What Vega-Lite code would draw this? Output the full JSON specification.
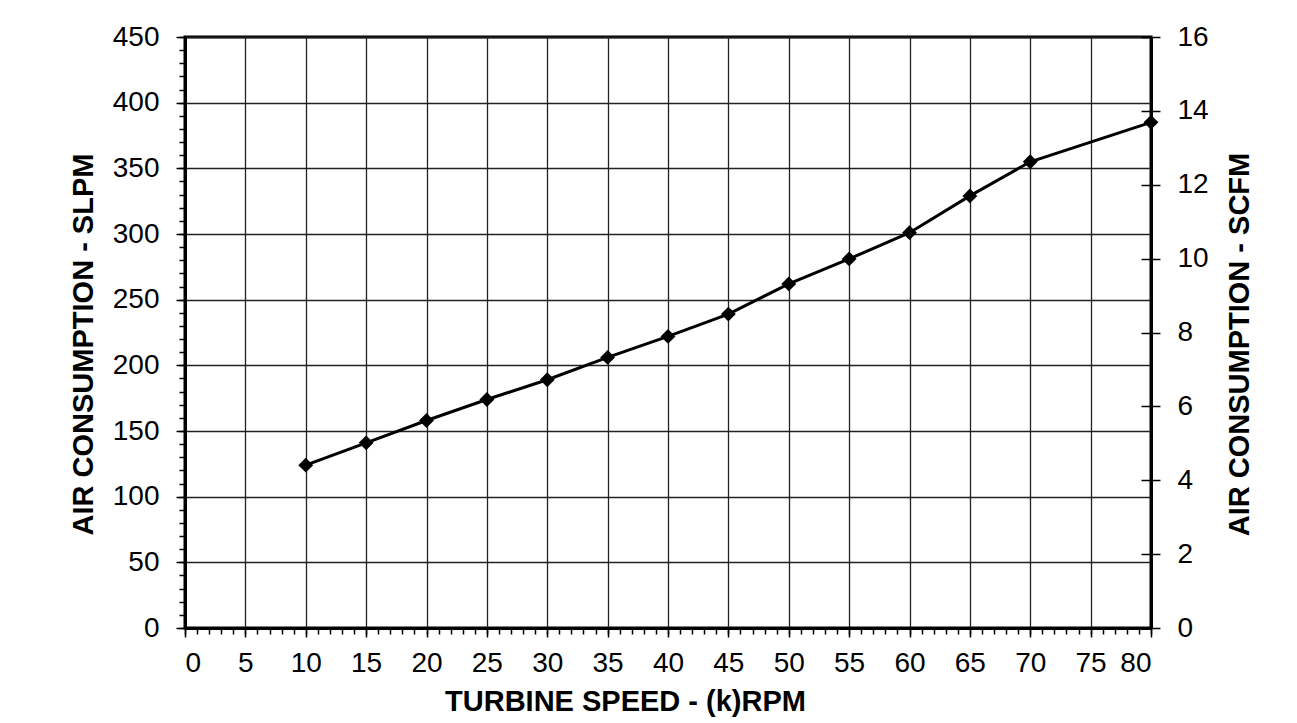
{
  "$schema": "https://vega.github.io/schema/vega-lite/v6.json",
  "width": 966,
  "height": 591,
  "autosize": {"type": "none"},
  "padding": {"left": 185, "top": 37, "right": 146, "bottom": 95},
  "background": "white",
  "config": {
    "view": {"stroke": "black", "strokeWidth": 3},
    "axis": {
      "labelFont": "Liberation Sans",
      "titleFont": "Liberation Sans",
      "labelColor": "black",
      "titleColor": "black",
      "tickColor": "black",
      "domainColor": "black",
      "labelFontSize": 28,
      "titleFontSize": 29,
      "titleFontWeight": "bold",
      "gridColor": "#222222",
      "gridWidth": 1.3,
      "gridOpacity": 1,
      "tickWidth": 1.5
    }
  },
  "data": {
    "values": [
      {"rpm": 10, "slpm": 124, "scfm": 4.41},
      {"rpm": 15, "slpm": 141, "scfm": 5.01},
      {"rpm": 20, "slpm": 158, "scfm": 5.62},
      {"rpm": 25, "slpm": 174, "scfm": 6.19},
      {"rpm": 30, "slpm": 189, "scfm": 6.72},
      {"rpm": 35, "slpm": 206, "scfm": 7.32},
      {"rpm": 40, "slpm": 222, "scfm": 7.89},
      {"rpm": 45, "slpm": 239, "scfm": 8.5},
      {"rpm": 50, "slpm": 262, "scfm": 9.32},
      {"rpm": 55, "slpm": 281, "scfm": 9.99},
      {"rpm": 60, "slpm": 301, "scfm": 10.7},
      {"rpm": 65, "slpm": 329, "scfm": 11.7},
      {"rpm": 70, "slpm": 355, "scfm": 12.62},
      {"rpm": 80, "slpm": 385, "scfm": 13.69}
    ]
  },
  "layer": [
    {
      "mark": {"type": "point", "opacity": 0},
      "encoding": {
        "x": {
          "field": "rpm", "type": "quantitative",
          "scale": {"domain": [0, 80], "nice": false},
          "axis": {
            "orient": "bottom",
            "values": [0,1,2,3,4,5,6,7,8,9,10,11,12,13,14,15,16,17,18,19,20,21,22,23,24,25,26,27,28,29,30,31,32,33,34,35,36,37,38,39,40,41,42,43,44,45,46,47,48,49,50,51,52,53,54,55,56,57,58,59,60,61,62,63,64,65,66,67,68,69,70,71,72,73,74,75,76,77,78,79,80],
            "labels": false, "grid": false, "domain": false, "tickSize": 6, "title": null
          }
        },
        "y": {
          "field": "slpm", "type": "quantitative",
          "scale": {"domain": [0, 450], "nice": false},
          "axis": {
            "orient": "left",
            "values": [0,10,20,30,40,50,60,70,80,90,100,110,120,130,140,150,160,170,180,190,200,210,220,230,240,250,260,270,280,290,300,310,320,330,340,350,360,370,380,390,400,410,420,430,440,450],
            "labels": false, "grid": false, "domain": false, "tickSize": 6, "title": null
          }
        }
      }
    },
    {
      "mark": {"type": "point", "opacity": 0},
      "encoding": {
        "x": {"field": "rpm", "type": "quantitative", "scale": {"domain": [0, 80], "nice": false}, "axis": null},
        "y": {
          "field": "scfm", "type": "quantitative",
          "scale": {"domain": [0, 16], "nice": false},
          "axis": {
            "orient": "right",
            "values": [0,2,4,6,8,10,12,14,16],
            "labels": false, "grid": false, "domain": false, "tickSize": -10, "title": null
          }
        }
      }
    },
    {
      "mark": {"type": "point", "opacity": 0},
      "encoding": {
        "x": {"field": "rpm", "type": "quantitative", "scale": {"domain": [0, 80], "nice": false}, "axis": null},
        "y": {
          "field": "scfm", "type": "quantitative",
          "scale": {"domain": [0, 16], "nice": false},
          "axis": {
            "orient": "right",
            "values": [0,2,4,6,8,10,12,14,16],
            "grid": false, "tickSize": 9, "labelPadding": 17,
            "domainWidth": 3,
            "title": "AIR CONSUMPTION - SCFM",
            "titleAngle": 270, "titleBaseline": "top",
            "titlePadding": 17, "titleY": 307
          }
        }
      }
    },
    {
      "mark": {"type": "line", "color": "black", "strokeWidth": 3},
      "encoding": {
        "x": {
          "field": "rpm", "type": "quantitative",
          "scale": {"domain": [0, 80], "nice": false},
          "axis": {
            "orient": "bottom",
            "values": [0,5,10,15,20,25,30,35,40,45,50,55,60,65,70,75,80],
            "grid": true, "tickSize": 9, "labelPadding": 12,
            "domainWidth": 3,
            "title": "TURBINE SPEED -  (k)RPM",
            "titlePadding": 10, "titleX": 440
          }
        },
        "y": {
          "field": "slpm", "type": "quantitative",
          "scale": {"domain": [0, 450], "nice": false},
          "axis": {
            "orient": "left",
            "values": [0,50,100,150,200,250,300,350,400,450],
            "grid": true, "tickSize": 9, "labelPadding": 17,
            "domainWidth": 3,
            "title": "AIR CONSUMPTION - SLPM",
            "titlePadding": 14, "titleY": 307
          }
        }
      }
    },
    {
      "mark": {"type": "point", "shape": "diamond", "filled": true, "color": "black", "size": 220, "opacity": 1},
      "encoding": {
        "x": {"field": "rpm", "type": "quantitative", "scale": {"domain": [0, 80], "nice": false}, "axis": null},
        "y": {"field": "slpm", "type": "quantitative", "scale": {"domain": [0, 450], "nice": false}, "axis": null}
      }
    }
  ],
  "resolve": {
    "scale": {"y": "independent"},
    "axis": {"x": "independent", "y": "independent"}
  }
}
